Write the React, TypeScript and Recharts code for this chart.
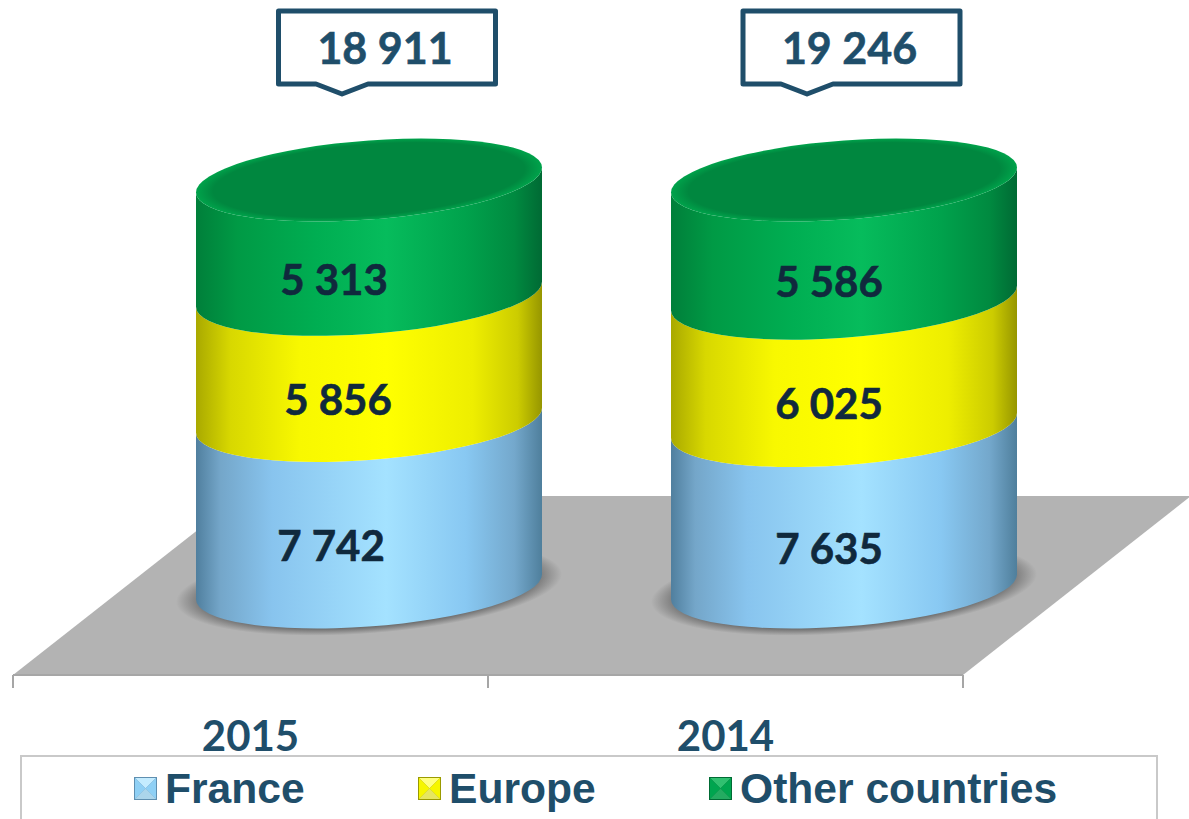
import { Bar, BarChart, Customized, LabelList, Legend, XAxis, YAxis } from "recharts"

const years = ["2015", "2014"]
const france = [7742, 7635]
const europe = [5856, 6025]
const otherCountries = [5313, 5586]
const totals = [18911, 19246]

const rows = years.map((year, i) => ({
  year,
  france: france[i],
  europe: europe[i],
  other: otherCountries[i],
  total: totals[i],
}))

const NAVY = "#1f4e6a"
const INK = "#10293d"
const LABEL_FONT = "Lato, Carlito, sans-serif"
const LEGEND_FONT = "'Liberation Sans', Arial, sans-serif"

// the bars sit back on the floor, so they are moved from the axis bands
const SHIFT_X = 118
const SHIFT_Y = -88
const TILT = -4.13
const RY = 39.6

const franceDx = [-38, -15]
const europeDx = [-31, -15]
const otherDx = [-35, -15]
const calloutDx = [18, 7.5]
const pointerDx = [-27, -37]

const fmt = (v: number) => String(v).replace(/\B(?=(\d{3})+$)/g, " ")

const gradients = [
  { id: "cylFrance", stops: [["0%", "#507f9e"], ["7%", "#74a6c9"], ["22%", "#88c4ee"], ["55%", "#a4e2ff"], ["78%", "#88c8f2"], ["92%", "#74a8cc"], ["100%", "#4f7f9c"]] },
  { id: "cylEurope", stops: [["0%", "#a9a900"], ["10%", "#d8d800"], ["30%", "#f8f800"], ["55%", "#ffff00"], ["80%", "#eeee00"], ["93%", "#cccc00"], ["100%", "#969600"]] },
  { id: "cylOther", stops: [["0%", "#007f3a"], ["12%", "#009a45"], ["35%", "#00ae52"], ["55%", "#06bc5c"], ["78%", "#00a24c"], ["92%", "#008a40"], ["100%", "#006a34"]] },
]

function cylinder(gradient: string, opts: { cap?: boolean; shadow?: boolean }) {
  return (props: any) => {
    const { x, y, width, height } = props
    const a = width / 2
    const cx = x + a + SHIFT_X
    const top = y + SHIFT_Y
    const bottom = top + height
    const body = `M${-a},${top} A${a},${RY} 0 0 0 ${a},${top} L${a},${bottom} A${a},${RY} 0 0 1 ${-a},${bottom} Z`
    return (
      <g transform={`translate(${cx},0) skewY(${TILT})`}>
        {opts.shadow && <ellipse cx={0} cy={bottom + 1} rx={a + 20} ry={RY + 6} fill="url(#floorShadow)" />}
        <path d={body} fill={`url(#${gradient})`} />
        {opts.cap && <ellipse cx={0} cy={top} rx={a} ry={RY} fill="url(#capFill)" />}
      </g>
    )
  }
}

function Floor() {
  return <polygon points="13,675 963,675 1191,496 241,496" fill="#b3b3b3" />
}

function YearTick(props: any) {
  const { x, y, payload, index } = props
  const half = 237.5
  return (
    <g>
      <line x1={x - half} x2={x - half} y1={675} y2={688} stroke="#a6a6a6" strokeWidth={2} />
      {index === years.length - 1 && <line x1={x + half} x2={x + half} y1={675} y2={688} stroke="#a6a6a6" strokeWidth={2} />}
      <text x={x} y={y + 68} textAnchor="middle" fontFamily={LABEL_FONT} fontWeight={700} fontSize={42} fill={NAVY}>
        {payload.value}
      </text>
    </g>
  )
}

function segmentLabel(dx: number[], dy: number) {
  return (props: any) => {
    const { x, y, width, height, value, index } = props
    return (
      <text
        x={x + width / 2 + SHIFT_X + dx[index]}
        y={y + SHIFT_Y + height / 2 + RY + dy}
        textAnchor="middle"
        fontFamily={LABEL_FONT}
        fontWeight={700}
        fontSize={42}
        fill={INK}
        stroke={INK}
        strokeWidth={0.6}
      >
        {fmt(value)}
      </text>
    )
  }
}

function TotalCallout(props: any) {
  const { x, width, value, index } = props
  const cx = x + width / 2 + SHIFT_X
  const mid = cx + calloutDx[index]
  const tip = cx + pointerDx[index]
  const w = 108.5
  const path = `M${mid - w},11 H${mid + w} V84 H${tip + 26} L${tip},94 L${tip - 26},84 H${mid - w} Z`
  return (
    <g>
      <path d={path} fill="#fff" stroke={NAVY} strokeWidth={5} strokeLinejoin="round" />
      <text x={mid - 2} y={64} textAnchor="middle" fontFamily={LABEL_FONT} fontWeight={700} fontSize={43} fill={NAVY} stroke={NAVY} strokeWidth={0.6}>
        {fmt(value)}
      </text>
    </g>
  )
}

const swatches = [
  { left: 114, light: "#c4ecff", base: "#8fd0f5", dark: "#5f8fb0" },
  { left: 398, light: "#ffff80", base: "#f6f600", dark: "#9a9a00" },
  { left: 689, light: "#30c070", base: "#00a54f", dark: "#006b34" },
]

function LegendBox(props: any) {
  const items = props.payload ?? []
  return (
    <div style={{ position: "relative", height: 66, boxSizing: "border-box", border: "2px solid #c9c9c9", background: "#fff" }}>
      {items.map((item: any, i: number) => {
        const s = swatches[i]
        return (
          <div key={item.value} style={{ position: "absolute", left: s.left - 2, top: 0, display: "flex", alignItems: "center", height: 62 }}>
            <svg width={23} height={23} style={{ display: "block" }}>
              <rect width={23} height={23} fill={s.dark} />
              <polygon points="0,0 23,0 11.5,11.5" fill={s.light} />
              <polygon points="0,0 11.5,11.5 0,23" fill={s.base} />
              <polygon points="23,0 11.5,11.5 23,23" fill={s.base} />
              <polygon points="0,23 23,23 11.5,11.5" fill={s.light} opacity={0.75} />
              <rect x={0.5} y={0.5} width={22} height={22} fill="none" stroke={s.dark} />
            </svg>
            <span style={{ marginLeft: 8, fontFamily: LEGEND_FONT, fontWeight: 700, fontSize: 42.6, color: NAVY, whiteSpace: "nowrap" }}>{item.value}</span>
          </div>
        )
      })}
    </div>
  )
}

export default function App() {
  return (
    <div style={{ position: "absolute", left: 0, top: 0, width: 1189, height: 819, overflow: "hidden", background: "#fff" }}>
      <BarChart
        width={1189}
        height={819}
        data={rows}
        stackOffset="expand"
        barSize={346}
        margin={{ top: 268, right: 226, bottom: 18, left: 13 }}
      >
        <defs>
          {gradients.map((g) => (
            <linearGradient key={g.id} id={g.id} x1="0" y1="0" x2="1" y2="0">
              {g.stops.map(([offset, color]) => (
                <stop key={offset} offset={offset} stopColor={color} />
              ))}
            </linearGradient>
          ))}
          <radialGradient id="floorShadow">
            <stop offset="80%" stopColor="#555555" />
            <stop offset="100%" stopColor="#b3b3b3" />
          </radialGradient>
          <radialGradient id="capFill">
            <stop offset="90%" stopColor="#00873f" />
            <stop offset="100%" stopColor="#00a34b" />
          </radialGradient>
        </defs>
        <Customized component={Floor} />
        <XAxis
          dataKey="year"
          height={60}
          axisLine={{ stroke: "#a6a6a6", strokeWidth: 2 }}
          tickLine={false}
          tick={YearTick}
          interval={0}
        />
        <YAxis hide domain={[0, 1]} />
        <Bar dataKey="france" name="France" stackId="a" fill="#8fd0f5" isAnimationActive={false} shape={cylinder("cylFrance", { shadow: true })}>
          <LabelList dataKey="france" content={segmentLabel(franceDx, 18)} />
        </Bar>
        <Bar dataKey="europe" name="Europe" stackId="a" fill="#f6f600" isAnimationActive={false} shape={cylinder("cylEurope", {})}>
          <LabelList dataKey="europe" content={segmentLabel(europeDx, 18)} />
        </Bar>
        <Bar dataKey="other" name="Other countries" stackId="a" fill="#00a54f" isAnimationActive={false} shape={cylinder("cylOther", { cap: true })}>
          <LabelList dataKey="other" content={segmentLabel(otherDx, 18)} />
          <LabelList dataKey="total" content={TotalCallout} />
        </Bar>
        <Legend
          content={LegendBox}
          itemSorter={null}
          wrapperStyle={{ left: 20, top: 755, bottom: "auto", width: 1138 }}
        />
      </BarChart>
    </div>
  )
}
